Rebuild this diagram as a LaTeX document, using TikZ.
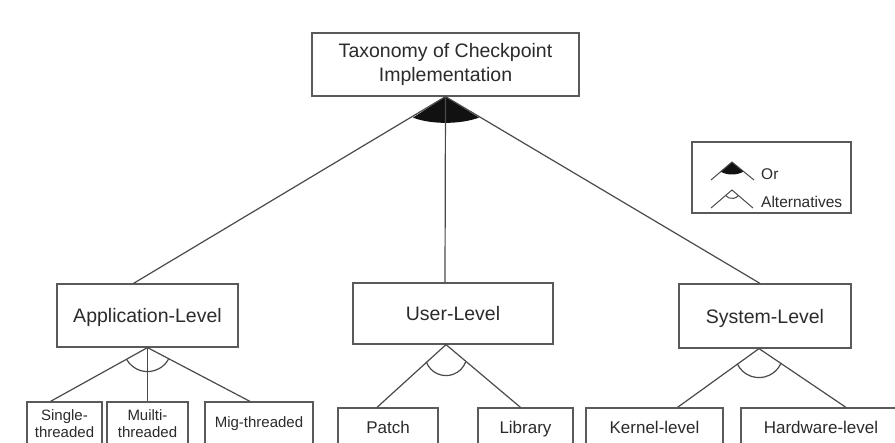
\documentclass[tikz,border=0pt]{standalone}
\usepackage{fontspec}
\setmainfont{Liberation Sans}
\usetikzlibrary{calc}
\definecolor{ln}{HTML}{4A4A4A}
\definecolor{bx}{HTML}{5A5A5A}
\definecolor{tx}{HTML}{2B2B2B}
\definecolor{fl}{HTML}{111111}
\begin{document}
\begin{tikzpicture}[x=1pt,y=1pt,
  box/.style={draw=bx, line width=1.2pt, fill=white, text=tx, inner sep=0pt, align=center},
  big/.style={font=\fontsize{19.5}{24}\selectfont},
  bigone/.style={big, text height=16pt, text depth=1pt},
  mid/.style={font=\fontsize{17}{20}\selectfont, text height=16pt, text depth=2.8pt},
  sml/.style={font=\fontsize{15}{17}\selectfont},
  conn/.style={draw=ln, line width=1.2pt},
  lgtext/.style={text=tx, inner sep=0pt, anchor=west, font=\fontsize{15.5}{18}\selectfont}]
\useasboundingbox[fill=white] (0,0) rectangle (895,-443);

% nodes
\node[box, big, minimum width=267pt, minimum height=63pt] (top) at (445.5,-64.5) {Taxonomy of Checkpoint\\Implementation};
\node[box, bigone, minimum width=181pt, minimum height=63pt] (app) at (147.5,-315.5) {Application-Level};
\node[box, bigone, minimum width=200pt, minimum height=61pt] (user) at (453,-313.5) {User-Level};
\node[box, bigone, minimum width=172pt, minimum height=64pt] (sys) at (765,-316) {System-Level};

\node[box, sml, minimum width=75pt, minimum height=42.5pt] (single) at (64.5,-423.25) {Single-\\threaded};
\node[box, sml, minimum width=81pt, minimum height=42.5pt] (multi) at (147.5,-423.25) {Muilti-\\threaded};
\node[box, sml, minimum width=108pt, minimum height=42.5pt] (mig) at (259,-423.25) {Mig-threaded};

\node[box, mid, minimum width=100pt, minimum height=37pt] (patch) at (388,-426.5) {Patch};
\node[box, mid, minimum width=95pt, minimum height=37pt] (lib) at (525.5,-426.5) {Library};
\node[box, mid, minimum width=137pt, minimum height=37pt] (kern) at (654.5,-426.5) {Kernel-level};
\node[box, mid, minimum width=160pt, minimum height=37pt] (hw) at (821,-426.5) {Hardware-level};

\node[draw=bx, line width=1.2pt, minimum width=159pt, minimum height=71pt, inner sep=0pt] (legend) at (771.5,-177.5) {};

% apex coordinates
\coordinate (ta) at (top.south);
\coordinate (aa) at (app.south);
\coordinate (ua) at ($(user.south)+(-7,0)$);
\coordinate (sa) at ($(sys.south)+(-6,0)$);

% top level: Or
\fill[fl] (ta) -- ($(ta)+(-32.5,-21)$) .. controls ($(ta)+(-15,-28)$) and ($(ta)+(15,-28)$) .. ($(ta)+(33.5,-21)$) -- cycle;
\draw[conn] (ta) -- ($(app.north)+(-14,0)$);
\draw[conn] (ta) -- ($(user.north)+(-8,0)$);
\draw[conn] (ta) -- ($(sys.north)+(-5,0)$);

% application level: alternatives
\draw[conn] (aa) -- ($(single.north)+(-14,0)$);
\draw[conn] (aa) -- (multi.north);
\draw[conn] (aa) -- ($(mig.north)+(-9,0)$);
\draw[conn] ([shift={(209:24)}]aa) arc[start angle=209, end angle=331, radius=24];

% user level
\draw[conn] (ua) -- ($(patch.north)+(-11,0)$);
\draw[conn] (ua) -- ($(lib.north)+(-5,0)$);
\draw[conn] ($(ua)+(0,-10)+(200:21)$) arc[start angle=200, end angle=340, radius=21];

% system level
\draw[conn] (sa) -- ($(kern.north)+(23,0)$);
\draw[conn] (sa) -- ($(hw.north)+(25,0)$);
\draw[conn] ($(sa)+(0,-5)+(205:24)$) arc[start angle=205, end angle=335, radius=24];

% legend
\coordinate (lo) at (732,-162);
\coordinate (la) at (732,-190);
\fill[fl] (lo) -- (720.5,-171.5) .. controls (727,-175.5) and (737,-175.5) .. (743.5,-171.5) -- cycle;
\draw[conn, line width=1pt] (711,-180) -- (lo) -- (754,-180);
\draw[conn, line width=1pt] (711,-208) -- (la) -- (753,-208);
\draw[conn, line width=1pt] ([shift={(220:8.5)}]la) arc[start angle=220, end angle=320, radius=8.5];
\node[lgtext] (lor) at (761,-174) {Or};
\node[lgtext] (lalt) at (761,-202) {Alternatives};
\end{tikzpicture}
\end{document}
